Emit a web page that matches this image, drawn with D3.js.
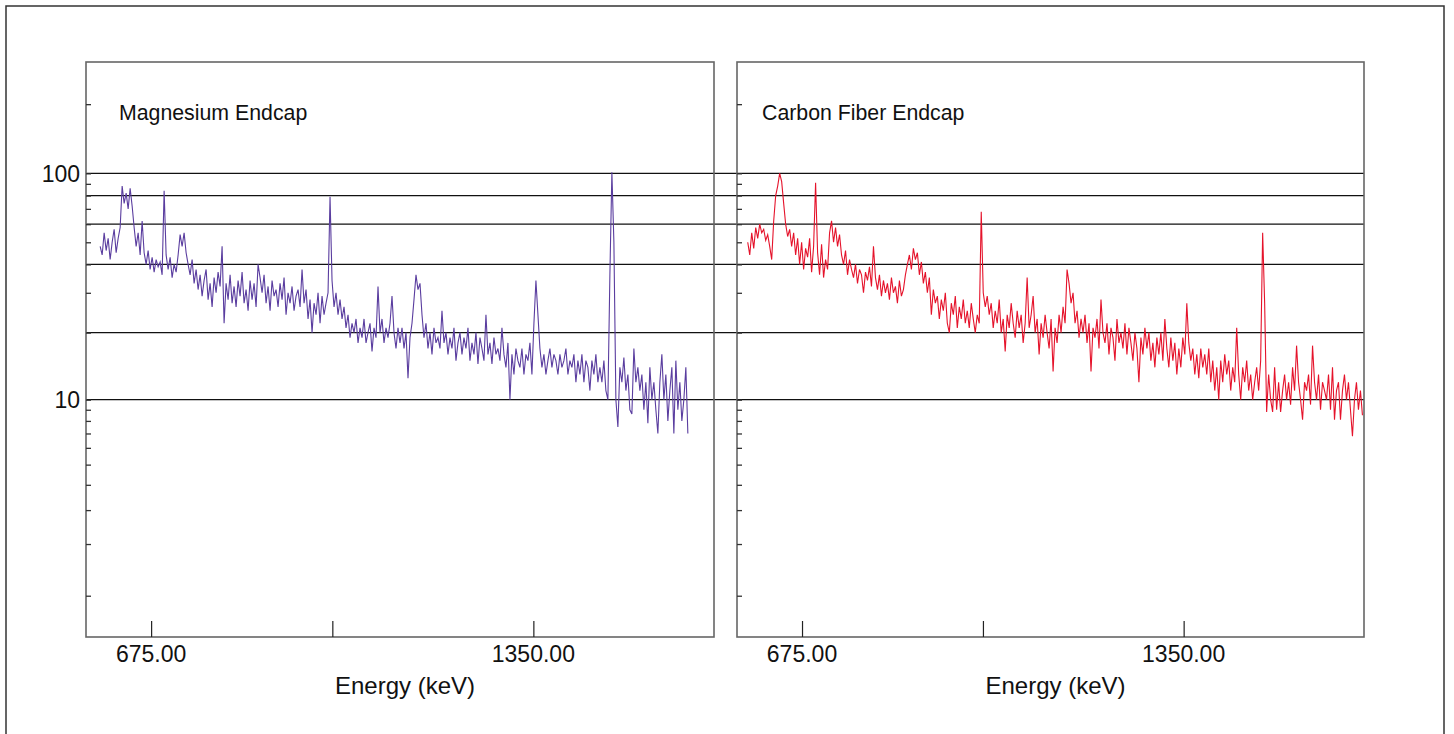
<!DOCTYPE html>
<html>
<head>
<meta charset="utf-8">
<script src="https://cdn.jsdelivr.net/npm/d3@7"></script>
<style>
  html, body { margin: 0; padding: 0; background: #fff; }
  svg { display: block; font-family: "Liberation Sans", Arial, sans-serif; }
</style>
</head>
<body>
<svg id="chart" width="1454" height="734"></svg>
<script>
// ---------------- data ----------------
const panelTitles = ["Magnesium Endcap", "Carbon Fiber Endcap"];
const energyDomain = [560, 1669];          // keV
const countDomain = [0.5, 305];
const xTickValues = [675, 995, 1350];
const xTickLabels = ["675.00", "", "1350.00"];
const gridValues = [10, 20, 40, 60, 80, 100];
const minorTickValues = [1, 2, 3, 4, 5, 6, 7, 8, 9, 30, 50, 70, 90, 200];
const yLabelValues = [10, 100];
const yLabels = ["10", "100"];
const binWidth = 3.53;                      // keV per bin
const magStart = 585;                       // keV of first bin
const carbonStart = 579;

const magCounts = [
  48, 44, 55, 46, 52, 42, 50, 57, 45, 52,
  58, 88, 74, 82, 70, 86, 72, 58, 48, 55,
  44, 62, 45, 40, 46, 38, 43, 37, 42, 39,
  41, 36, 84, 44, 38, 43, 35, 40, 37, 44,
  54, 48, 55, 45, 40, 36, 42, 33, 38, 31,
  36, 29, 34, 38, 28, 33, 26, 35, 30, 37,
  32, 48, 22, 33, 28, 36, 27, 32, 26, 34,
  29, 37, 27, 31, 25, 34, 28, 33, 26, 40,
  35, 30, 36, 27, 32, 25, 34, 29, 31, 26,
  33, 28, 35, 24, 30, 27, 32, 25, 29, 31,
  26, 38, 27, 31, 23, 28, 20, 27, 24, 30,
  22, 29, 24, 27, 30, 79, 34, 26, 30, 24,
  28, 23, 26, 21, 24, 19, 22, 20, 23, 18,
  21, 19, 23, 18, 20, 22, 16.5, 21, 19, 32,
  20, 23, 18, 21, 19, 22, 29, 20, 17, 21,
  18, 21, 17, 20, 12.5, 19, 22, 28, 36, 31,
  33, 24, 19, 22, 17, 20, 16, 21, 18, 19,
  17, 25, 18, 20, 16, 19, 17, 21, 15, 18,
  20, 16, 19, 17, 21, 15, 18, 16, 20, 14.5,
  19, 17, 15, 24, 16, 18, 14.5, 19, 16, 17,
  15, 21, 16, 14, 18, 10, 16, 13, 17, 15,
  14, 17, 13, 16, 15, 18, 13, 22, 34, 24,
  17, 14, 16, 13, 15, 17, 14, 16, 15, 13,
  16, 14, 15, 17, 13, 15, 14, 16, 12, 15,
  13, 16, 12, 15, 14, 11, 15, 13, 16, 12,
  14, 12, 15, 11, 10, 36, 101, 50, 10, 7.5,
  14, 12, 15.5, 11, 13, 9, 8.6, 17, 12, 14,
  11, 13, 9, 12, 7.8, 14, 10, 12, 9, 7,
  12, 16, 10, 13, 8, 11, 14, 7, 15, 9,
  12, 8, 10, 14, 7
];

const carbonCounts = [
  50, 44, 55, 47, 58, 52, 60, 55, 57, 51,
  54, 48, 42, 62, 80, 88, 100, 92, 74, 60,
  53, 57, 48, 55, 44, 52, 40, 50, 38, 47,
  43, 52, 37, 48, 91, 45, 36, 49, 35, 42,
  38, 55, 62, 50, 58, 48, 54, 44, 40, 46,
  36, 42, 38, 35, 40, 33, 38, 36, 30, 37,
  34, 39, 32, 48, 35, 31, 36, 29, 34, 30,
  33, 28, 35, 30, 32, 27, 34, 29, 31, 36,
  40, 44, 38, 47, 42, 45, 36, 41, 33, 37,
  30, 35, 24, 31, 27, 29, 23, 28, 25, 30,
  22, 20, 27, 24, 29, 21, 26, 23, 28, 22,
  25, 21, 27, 23, 20, 24, 22, 68, 30, 26,
  29, 24, 27, 21, 25, 22, 28, 20, 23, 16.5,
  24, 21, 27, 22, 19, 25, 21, 24, 18, 22,
  35, 21, 24, 29, 20, 23, 16, 22, 19, 24,
  20, 17, 23, 13.4, 21, 18, 24, 20, 26, 22,
  38, 33, 27, 30, 22, 25, 19, 23, 20, 24,
  18, 22, 13.4, 21, 19, 23, 17, 28, 20, 18,
  22, 16, 21, 19, 15, 23, 18, 20, 17, 22,
  16, 21, 18, 15, 20, 17, 12, 19, 16, 21,
  17, 20, 15, 18, 14, 19, 16, 20, 15, 23,
  17, 14, 19, 15, 18, 13, 17, 14, 19, 16,
  27, 18, 15, 17, 13, 16, 12.5, 17, 14, 16,
  13, 17, 12, 15, 11, 14, 10, 15, 12, 16,
  13, 15, 11, 14, 12, 21, 13, 10, 14, 12,
  15, 11, 13, 10, 12, 14, 11, 15, 55, 27,
  8.8, 13, 10, 8.8, 14, 9, 12, 8.8, 11, 13,
  10, 12, 9.5, 14, 11, 17.5, 12, 10, 8.1, 12,
  11, 13, 9.5, 17.5, 12, 10, 13, 9, 12, 11,
  10, 13, 9, 14, 8.1, 11, 12, 8.1, 11, 13,
  10, 12, 9, 6.8, 10, 12, 9, 11, 8.5
];

// ---------------- drawing ----------------
const svg = d3.select("#chart");
svg.append("rect").attr("width", 1454).attr("height", 734).attr("fill", "#fff");
svg.append("rect").attr("x", 6).attr("y", 6).attr("width", 1438).attr("height", 760)
  .attr("fill", "none").attr("stroke", "#333").attr("stroke-width", 1.5);

const plotTop = 62, plotBottom = 637;
const panels = [
  { x0: 86, x1: 714, title: panelTitles[0], titleDx: 33, counts: magCounts, start: magStart, color: "#5a3d9f" },
  { x0: 737, x1: 1364, title: panelTitles[1], titleDx: 25, counts: carbonCounts, start: carbonStart, color: "#e5132b" }
];

const y = d3.scaleSymlog().constant(0.48).domain(countDomain).range([plotBottom, plotTop]);

// gridlines span both panels
const gridX = d3.scaleLinear().domain([0, 1]).range([panels[0].x0, panels[1].x1]);
svg.append("g").selectAll("line").data(gridValues).join("line")
  .attr("x1", gridX(0)).attr("x2", gridX(1))
  .attr("y1", d => y(d)).attr("y2", d => y(d))
  .attr("stroke", "#111").attr("stroke-width", 1.2);

panels.forEach((p, pi) => {
  const x = d3.scaleLinear().domain(energyDomain).range([p.x0, p.x1]);
  const g = svg.append("g");

  // series
  const pts = p.counts.map((c, i) => [p.start + i * binWidth, c]);
  g.append("path").datum(pts)
    .attr("fill", "none").attr("stroke", p.color).attr("stroke-width", 1.1)
    .attr("d", d3.line().x(d => x(d[0])).y(d => y(d[1])));

  // frame
  g.append("rect").attr("x", p.x0).attr("y", plotTop)
    .attr("width", p.x1 - p.x0).attr("height", plotBottom - plotTop)
    .attr("fill", "none").attr("stroke", "#666").attr("stroke-width", 1.6);

  // y minor ticks (inward)
  const yAxis = d3.axisRight(y).tickValues(minorTickValues.concat(gridValues))
    .tickSize(5).tickFormat("");
  const ya = g.append("g").attr("transform", `translate(${p.x0},0)`).call(yAxis);
  ya.select(".domain").remove();
  ya.selectAll("line").attr("stroke", "#333").attr("stroke-width", 1.3);

  // x ticks (inward)
  const xAxis = d3.axisTop(x).tickValues(xTickValues).tickSize(16).tickFormat("");
  const xa = g.append("g").attr("transform", `translate(0,${plotBottom})`).call(xAxis);
  xa.select(".domain").remove();
  xa.selectAll("line").attr("stroke", "#222").attr("stroke-width", 1.2);

  g.selectAll("text.xlab").data(xTickValues).join("text").attr("class", "xlab")
    .attr("x", d => x(d)).attr("y", 662)
    .attr("text-anchor", "middle").attr("font-size", 23).attr("fill", "#111")
    .text((d, i) => xTickLabels[i]);

  g.append("text").attr("x", (p.x0 + p.x1) / 2 + 5).attr("y", 694)
    .attr("text-anchor", "middle").attr("font-size", 24).attr("fill", "#111")
    .text("Energy (keV)");

  g.append("text").attr("x", p.x0 + p.titleDx).attr("y", 120)
    .attr("font-size", 21.3).attr("fill", "#111").text(p.title);

  if (pi === 0) {
    g.selectAll("text.ylab").data(yLabelValues).join("text").attr("class", "ylab")
      .attr("x", 80).attr("y", d => y(d)).attr("dy", "0.36em")
      .attr("text-anchor", "end").attr("font-size", 23).attr("fill", "#111")
      .text((d, i) => yLabels[i]);
  }
});
</script>
</body>
</html>
